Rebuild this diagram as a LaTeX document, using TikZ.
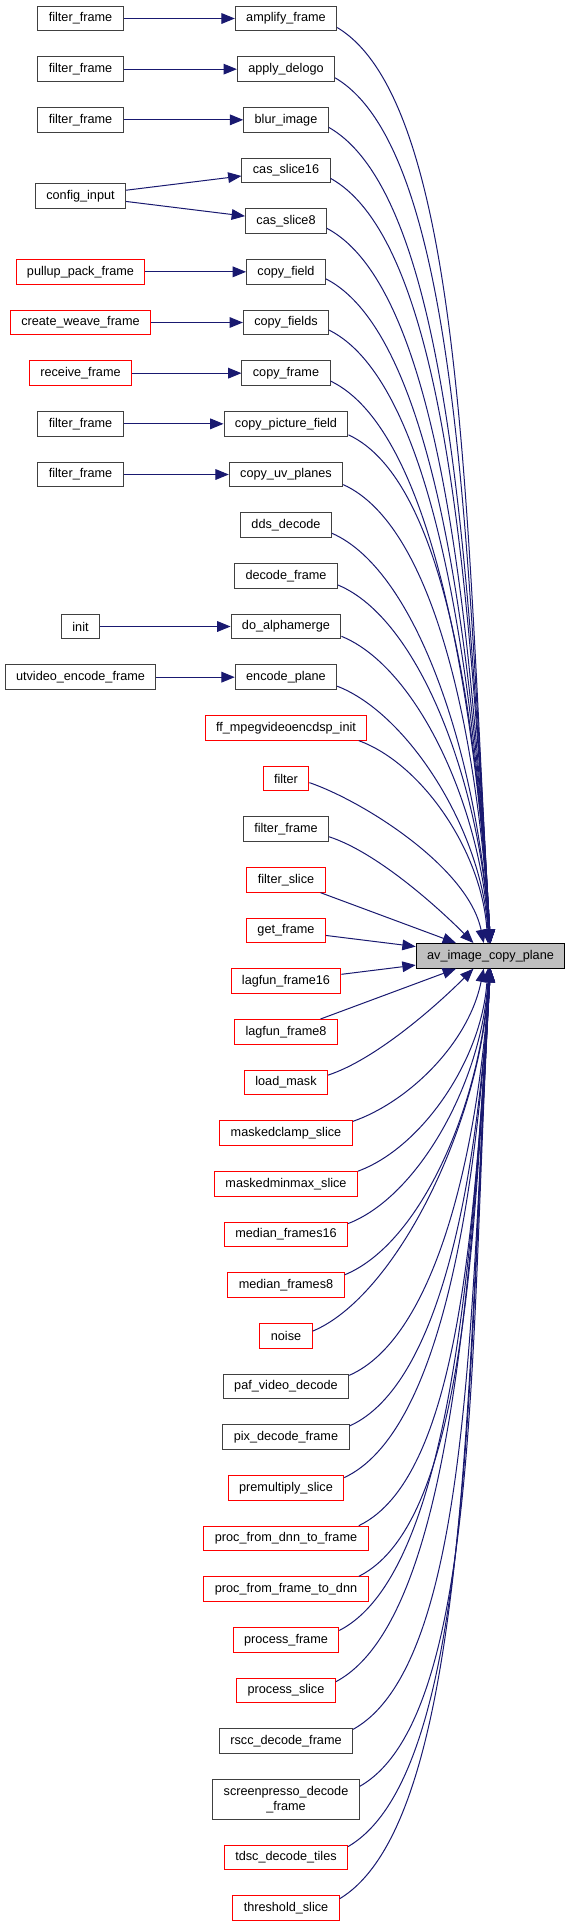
\documentclass[tikz,border=0pt]{standalone}
\usepackage{fontspec}
\setmainfont{Liberation Sans}
\usepackage{xcolor}
\usepackage{tikz}
\usetikzlibrary{arrows.meta,positioning,calc}
\definecolor{edgeblue}{RGB}{25,25,112}
\definecolor{nodegray}{RGB}{191,191,191}

\begin{document}
\begin{tikzpicture}[
    x=0.75pt, y=0.75pt,
    fn/.style={rectangle, draw=black!75, fill=white, line width=0.75pt, minimum height=18.5pt,
        inner xsep=8.2pt, inner ysep=2pt, align=center, font=\fontsize{9.5}{11.25}\selectfont},
    fnred/.style={fn, draw=red},
    call/.style={-{Triangle[length=10pt,width=8pt]}, draw=edgeblue, line width=0.75pt},
    node distance=18.75pt
]
\fill[white] (0,0) rectangle (571,-1928);

\node[fn] (amplify) at (286,-18.5) {amplify\_frame};
\node[fn, below=of amplify] (delogo) {apply\_delogo};
\node[fn, below=of delogo] (blur) {blur\_image};
\node[fn, below=of blur] (cas16) {cas\_slice16};
\node[fn, below=of cas16] (cas8) {cas\_slice8};
\node[fn, below=of cas8] (copyfield) {copy\_field};
\node[fn, below=of copyfield] (copyfields) {copy\_fields};
\node[fn, below=of copyfields] (copyframe) {copy\_frame};
\node[fn, below=of copyframe] (copypic) {copy\_picture\_field};
\node[fn, below=of copypic] (copyuv) {copy\_uv\_planes};
\node[fn, below=of copyuv] (dds) {dds\_decode};
\node[fn, below=of dds] (decode) {decode\_frame};
\node[fn, below=of decode] (alpha) {do\_alphamerge};
\node[fn, below=of alpha] (encplane) {encode\_plane};
\node[fnred, below=of encplane] (mpegenc) {ff\_mpegvideoencdsp\_init};
\node[fnred, below=of mpegenc] (filter) {filter};
\node[fn, below=of filter] (filterframe) {filter\_frame};
\node[fnred, below=of filterframe] (filterslice) {filter\_slice};
\node[fnred, below=of filterslice] (getframe) {get\_frame};
\node[fnred, below=of getframe] (lagfun16) {lagfun\_frame16};
\node[fnred, below=of lagfun16] (lagfun8) {lagfun\_frame8};
\node[fnred, below=of lagfun8] (loadmask) {load\_mask};
\node[fnred, below=of loadmask] (mclamp) {maskedclamp\_slice};
\node[fnred, below=of mclamp] (mminmax) {maskedminmax\_slice};
\node[fnred, below=of mminmax] (median16) {median\_frames16};
\node[fnred, below=of median16] (median8) {median\_frames8};
\node[fnred, below=of median8] (noise) {noise};
\node[fn, below=of noise] (paf) {paf\_video\_decode};
\node[fn, below=of paf] (pix) {pix\_decode\_frame};
\node[fnred, below=of pix] (premult) {premultiply\_slice};
\node[fnred, below=of premult] (dnnframe) {proc\_from\_dnn\_to\_frame};
\node[fnred, below=of dnnframe] (framednn) {proc\_from\_frame\_to\_dnn};
\node[fnred, below=of framednn] (procframe) {process\_frame};
\node[fnred, below=of procframe] (procslice) {process\_slice};
\node[fn, below=of procslice] (rscc) {rscc\_decode\_frame};
\node[fn, below=of rscc, minimum height=29.75pt] (screenpresso) {screenpresso\_decode\\\_frame};
\node[fnred, below=of screenpresso] (tdsc) {tdsc\_decode\_tiles};
\node[fnred, below=of tdsc] (threshold) {threshold\_slice};

\coordinate (lx) at (80.5,0);
\coordinate (tx) at (490.5,0);
\coordinate (casmid) at ($(cas16)!0.5!(cas8)$);
\coordinate (avmid) at ($(getframe)!0.5!(lagfun16)$);
\node[fn, fill=nodegray, draw=black] (avcopy) at (avmid -| tx) {av\_image\_copy\_plane};

\node[fn] (ffamplify) at (amplify -| lx) {filter\_frame};
\node[fn] (ffdelogo) at (delogo -| lx) {filter\_frame};
\node[fn] (ffblur) at (blur -| lx) {filter\_frame};
\node[fn] (config) at (casmid -| lx) {config\_input};
\node[fnred] (pullup) at (copyfield -| lx) {pullup\_pack\_frame};
\node[fnred] (weave) at (copyfields -| lx) {create\_weave\_frame};
\node[fnred] (receive) at (copyframe -| lx) {receive\_frame};
\node[fn] (ffpic) at (copypic -| lx) {filter\_frame};
\node[fn] (ffuv) at (copyuv -| lx) {filter\_frame};
\node[fn] (init) at (alpha -| lx) {init};
\node[fn] (utvideo) at (encplane -| lx) {utvideo\_encode\_frame};

\draw[call] (ffamplify) -- (amplify);
\draw[call] (ffdelogo) -- (delogo);
\draw[call] (ffblur) -- (blur);
\draw[call] (config) -- (cas16);
\draw[call] (config) -- (cas8);
\draw[call] (pullup) -- (copyfield);
\draw[call] (weave) -- (copyfields);
\draw[call] (receive) -- (copyframe);
\draw[call] (ffpic) -- (copypic);
\draw[call] (ffuv) -- (copyuv);
\draw[call] (init) -- (alpha);
\draw[call] (utvideo) -- (encplane);

\draw[call] (amplify.-10) .. controls +(130,-78) and +(-24,397) .. (avcopy.90);
\draw[call] (delogo.-10) .. controls +(126,-74) and +(-23,376) .. (avcopy.90);
\draw[call] (blur.-10) .. controls +(123,-70) and +(-21,354) .. (avcopy.90);
\draw[call] (cas16.-10) .. controls +(119,-66) and +(-20,332) .. (avcopy.90);
\draw[call] (cas8.-10) .. controls +(115,-61) and +(-19,310) .. (avcopy.90);
\draw[call] (copyfield.-10) .. controls +(111,-57) and +(-17,288) .. (avcopy.91);
\draw[call] (copyfields.-10) .. controls +(106,-53) and +(-16,267) .. (avcopy.91);
\draw[call] (copyframe.-10) .. controls +(102,-49) and +(-15,245) .. (avcopy.91);
\draw[call] (copypic.-10) .. controls +(97,-45) and +(-13,223) .. (avcopy.92);
\draw[call] (copyuv.-10) .. controls +(93,-42) and +(-12,201) .. (avcopy.92);
\draw[call] (dds.-10) .. controls +(87,-38) and +(-11,179) .. (avcopy.93);
\draw[call] (decode.-10) .. controls +(82,-34) and +(-9,158) .. (avcopy.94);
\draw[call] (alpha.-10) .. controls +(76,-31) and +(-8,136) .. (avcopy.96);
\draw[call] (encplane.-10) .. controls +(70,-27) and +(-7,114) .. (avcopy.98);
\draw[call] (mpegenc.-10) .. controls +(63,-23) and +(-6,92) .. (avcopy.102);
\draw[call] (filter.-10) .. controls +(55,-19) and +(-15,75) .. (avcopy.118);
\draw[call] (filterframe.-10) .. controls +(46,-15) and +(-40,40) .. (avcopy.143);
\draw[call] (filterslice) -- (avcopy);
\draw[call] (getframe) -- (avcopy);
\draw[call] (lagfun16) -- (avcopy);
\draw[call] (lagfun8) -- (avcopy);
\draw[call] (loadmask.10) .. controls +(46,15) and +(-40,-40) .. (avcopy.-143);
\draw[call] (mclamp.10) .. controls +(55,19) and +(-15,-75) .. (avcopy.-118);
\draw[call] (mminmax.10) .. controls +(63,23) and +(-6,-92) .. (avcopy.-102);
\draw[call] (median16.10) .. controls +(70,27) and +(-7,-114) .. (avcopy.-98);
\draw[call] (median8.10) .. controls +(76,31) and +(-8,-136) .. (avcopy.-96);
\draw[call] (noise.10) .. controls +(82,34) and +(-9,-158) .. (avcopy.-94);
\draw[call] (paf.10) .. controls +(87,38) and +(-11,-180) .. (avcopy.-93);
\draw[call] (pix.10) .. controls +(93,42) and +(-12,-201) .. (avcopy.-92);
\draw[call] (premult.10) .. controls +(97,45) and +(-13,-223) .. (avcopy.-92);
\draw[call] (dnnframe.10) .. controls +(102,49) and +(-15,-245) .. (avcopy.-91);
\draw[call] (framednn.10) .. controls +(106,53) and +(-16,-267) .. (avcopy.-91);
\draw[call] (procframe.10) .. controls +(111,57) and +(-17,-289) .. (avcopy.-91);
\draw[call] (procslice.10) .. controls +(115,61) and +(-19,-310) .. (avcopy.-90);
\draw[call] (rscc.10) .. controls +(119,66) and +(-20,-332) .. (avcopy.-90);
\draw[call] (screenpresso.10) .. controls +(123,70) and +(-21,-357) .. (avcopy.-90);
\draw[call] (tdsc.10) .. controls +(128,75) and +(-23,-383) .. (avcopy.-90);
\draw[call] (threshold.10) .. controls +(131,79) and +(-24,-404) .. (avcopy.-90);
\end{tikzpicture}
\end{document}
